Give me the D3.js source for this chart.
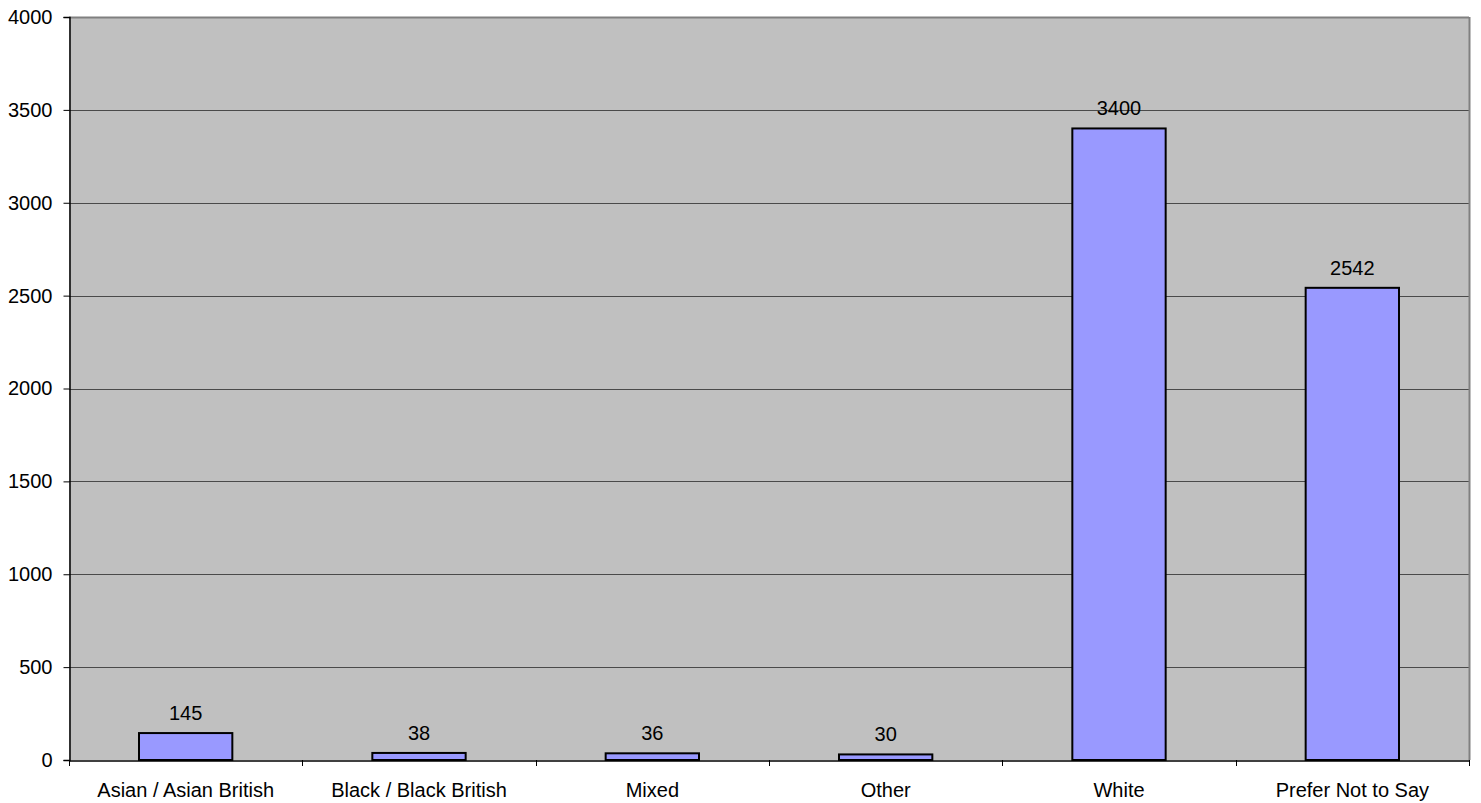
<!DOCTYPE html>
<html>
<head>
<meta charset="utf-8">
<script src="https://cdn.jsdelivr.net/npm/d3@7"></script>
<style>
  html, body { margin: 0; padding: 0; background: #ffffff; }
  svg { display: block; }
  text { font-family: "Liberation Sans", Arial, sans-serif; font-size: 20px; fill: #000; }
</style>
</head>
<body>
<svg id="chart" width="1481" height="803"></svg>
<script>
// Respondents by ethnic group
const categories = ["Asian / Asian British", "Black / Black British", "Mixed", "Other", "White", "Prefer Not to Say"];
const counts = [145, 38, 36, 30, 3400, 2542];
const yTicks = [0, 500, 1000, 1500, 2000, 2500, 3000, 3500, 4000];

const svg = d3.select("#chart");
const margin = { left: 69, top: 17, right: 12, bottom: 43 };
const W = 1481, H = 803;
const x0 = margin.left, x1 = W - margin.right;
const y0 = H - margin.bottom, y1 = margin.top;
const FONT = "Liberation Sans, Arial, sans-serif";

const x = d3.scaleBand().domain(categories).range([x0, x1]).paddingInner(0).paddingOuter(0);
const y = d3.scaleLinear().domain([0, 4000]).range([y0, y1]);

// plot background
svg.append("rect")
  .attr("x", x0).attr("y", y1)
  .attr("width", x1 - x0).attr("height", y0 - y1)
  .attr("fill", "#c0c0c0");

// horizontal gridlines
svg.append("g")
  .selectAll("line")
  .data(yTicks.filter(t => t > 0))
  .join("line")
  .attr("x1", x0).attr("x2", x1)
  .attr("y1", d => Math.round(y(d)) + 0.5).attr("y2", d => Math.round(y(d)) + 0.5)
  .attr("stroke", d => d === 4000 ? "#808080" : "#4a4a4a")
  .attr("stroke-width", d => d === 4000 ? 2 : 1.2);

// right border
svg.append("line")
  .attr("x1", x1 + 0.5).attr("x2", x1 + 0.5)
  .attr("y1", y1).attr("y2", y0)
  .attr("stroke", "#808080").attr("stroke-width", 2);

// bars
const bw = x.bandwidth() * 0.4;
svg.append("g")
  .selectAll("rect")
  .data(categories)
  .join("rect")
  .attr("x", (d) => x(d) + (x.bandwidth() - bw) / 2)
  .attr("y", (d, i) => y(counts[i]))
  .attr("width", bw)
  .attr("height", (d, i) => y(0) - y(counts[i]))
  .attr("fill", "#9999ff")
  .attr("stroke", "#000")
  .attr("stroke-width", 2);

// value labels
svg.append("g")
  .selectAll("text")
  .data(categories)
  .join("text")
  .attr("x", d => x(d) + x.bandwidth() / 2)
  .attr("y", (d, i) => y(counts[i]) - 13)
  .attr("text-anchor", "middle")
  .text((d, i) => counts[i]);

// y axis
const yAxis = d3.axisLeft(y).tickValues(yTicks).tickSize(6).tickPadding(11).tickFormat(d3.format("d"));
const gy = svg.append("g").attr("transform", `translate(${x0 + 0.5},0)`).call(yAxis);
gy.select(".domain").attr("stroke", "#000").attr("stroke-width", 1.5);
gy.selectAll(".tick line").attr("stroke", "#000");
gy.selectAll(".tick text").style("font-size", "20px").attr("fill", "#000").attr("font-family", FONT);

// x axis
const xAxis = d3.axisBottom(x).tickSize(0).tickPadding(22);
const gx = svg.append("g").attr("transform", `translate(0,${y0 + 0.5})`).call(xAxis);
gx.select(".domain").attr("stroke", "#000").attr("stroke-width", 1.5);
gx.selectAll(".tick text").style("font-size", "20px").attr("fill", "#000").attr("font-family", FONT);

// category separators on the x axis
const edges = categories.map(c => x(c)).concat([x1]);
svg.append("g")
  .selectAll("line")
  .data(edges)
  .join("line")
  .attr("x1", d => Math.round(d) + 0.5).attr("x2", d => Math.round(d) + 0.5)
  .attr("y1", y0).attr("y2", y0 + 6)
  .attr("stroke", "#000");
</script>
</body>
</html>
